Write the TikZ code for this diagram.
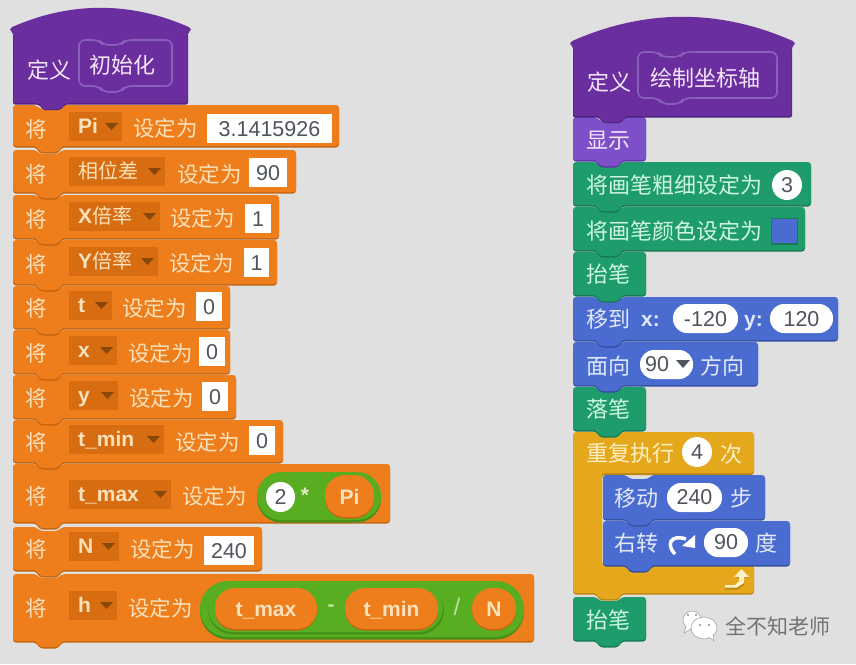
\documentclass[tikz,border=0pt]{standalone}
\usepackage{fontspec}
\setmainfont{Liberation Sans}
\newfontfamily\cjk{Noto Sans CJK SC}
\definecolor{bgc}{HTML}{E0E0E1}
\definecolor{org}{HTML}{EE7D1C}
\definecolor{orgd}{HTML}{C4650F}
\definecolor{orgb}{HTML}{D76C10}
\definecolor{orgt}{HTML}{FBE2BC}
\definecolor{pur}{HTML}{6A2E9E}
\definecolor{purd}{HTML}{4E2281}
\definecolor{purl}{HTML}{8A5FBA}
\definecolor{purt}{HTML}{F3E6FA}
\definecolor{vio}{HTML}{7D4FC9}
\definecolor{viod}{HTML}{6239A8}
\definecolor{grn}{HTML}{1E9C6C}
\definecolor{grnd}{HTML}{177A55}
\definecolor{grnt}{HTML}{CFF7DF}
\definecolor{blu}{HTML}{4A6BD0}
\definecolor{blud}{HTML}{35509F}
\definecolor{blut}{HTML}{E2E9FB}
\definecolor{gld}{HTML}{E5A71C}
\definecolor{gldd}{HTML}{BB8712}
\definecolor{gldt}{HTML}{FDF0C4}
\definecolor{lim}{HTML}{58AE20}
\definecolor{limd}{HTML}{459018}
\definecolor{valc}{HTML}{50545C}
\newcommand\vc[1]{{\cjk\mdseries\fontsize{20}{22}\selectfont #1}}
\tikzset{
  x=1pt,y=-1pt,
  cn/.style={font=\cjk\fontsize{21.5}{22}\selectfont,inner sep=0pt,anchor=west},
  cnb/.style={font=\cjk\fontsize{22}{22}\selectfont,inner sep=0pt,anchor=west},
  lat/.style={font=\bfseries\fontsize{21}{22}\selectfont,inner sep=0pt},
  num/.style={font=\fontsize{21.5}{22}\selectfont,inner sep=0pt,text=valc},
  wbox/.style={fill=white,draw=none},
}
% stack block
\newcommand\blockshape[4]{(#1,#2) -- (#1+23,#2) -- (#1+27,#2+4) -- (#1+45,#2+4) -- (#1+49,#2) -- (#3,#2) -- (#3,#4) -- (#1+49,#4) -- (#1+45,#4+6) -- (#1+27,#4+6) -- (#1+23,#4) -- (#1,#4) -- cycle}
\newcommand\blk[6]{%
  \fill[#6,rounded corners=3pt] \blockshape{#1}{#2+2}{#3}{#4+1.5};
  \fill[#5,rounded corners=3pt] \blockshape{#1}{#2}{#3}{#4};}
% hat
\newcommand\hatblk[8]{% x0 ledgeL x1 bottom  peak  outline x0 y0 x1 y1
  \fill[purd,rounded corners=2pt] (#1+3,#2+5) -- (#1+3,#4+1.5) -- (#1+29,#4+1.5) -- (#1+33,#4+7) -- (#1+51,#4+7) -- (#1+55,#4+1.5) -- (#3-3,#4+1.5) -- (#3-3,#2+5) -- cycle;
  \fill[pur,rounded corners=2pt] (#1,#2) .. controls ({#1+(#3-#1)/3},{#5-(#2-#5)/3}) and ({#3-(#3-#1)/3},{#5-(#2-#5)/3}) .. (#3,#2) -- (#3,#2+3) -- (#3-3.5,#2+5) -- (#3-3.5,#4) -- (#1+55,#4) -- (#1+51,#4+6) -- (#1+33,#4+6) -- (#1+29,#4) -- (#1+3.5,#4) -- (#1+3.5,#2+5) -- (#1,#2+3) -- cycle;
  \draw[purl,line width=1.6pt,rounded corners=6pt] (#6,#7) -- (#6+20,#7) -- (#6+24,#7+5) -- (#6+42,#7+5) -- (#6+46,#7) -- (#8,#7) -- (#8,#7+46) -- (#6+46,#7+46) -- (#6+42,#7+52) -- (#6+24,#7+52) -- (#6+20,#7+46) -- (#6,#7+46) -- cycle;}
\newcommand\jiang[2]{\node[cn,text=orgt] (#1j) at (25,#2) {将};}
\newcommand\dd[4]{% name yc x1 text
  \fill[orgb] (69,#2-17) rectangle (#3,#2+12);
  \node[lat,anchor=base west,text=orgt] (#1v) at (78,#2+4) {#4};
  \fill[orgd!70!black] (#3-17,#2-6) -- (#3-4,#2-6) -- (#3-10.5,#2+1) -- cycle;}
\newcommand\sd[3]{\node[cn,text=orgt] (#1s) at (#2,#3) {设定为};}
\newcommand\val[5]{% name x0 x1 yc text
  \fill[wbox] (#2,#4-15) rectangle (#3,#4+14);
  \node[num] (#1n) at ({(#2+#3)/2},#4) {#5};}
\newcommand\pill[5]{% name x0 x1 yc text
  \fill[white,rounded corners=14pt] (#2,#4-15) rectangle (#3,#4+14);
  \node[num] (#1n) at ({(#2+#3)/2},#4) {#5};}
\newcommand\opill[7]{% name x0 x1 y0 y1 text yc
  \fill[orgd,rounded corners=20pt] (#2,#4+1.5) rectangle (#3,#5+1.5);
  \fill[org,rounded corners=20pt] (#2,#4) rectangle (#3,#5);
  \node[lat,anchor=base,text=orgt] (#1n) at ({(#2+#3)/2},#7+8) {#6};}
\begin{document}
\begin{tikzpicture}
\useasboundingbox (0,0) rectangle (856,664);
\fill[bgc] (0,0) rectangle (856,664);
\foreach \i in {0,...,38}{\foreach \j in {0,...,30}{\fill[black!9] (\i*22.5+9,\j*22.5+3) circle[radius=0.7pt];}}

% ---- left stack (drawn bottom up so notches of upper blocks show)
\blk{13}{574}{534}{641}{org}{orgd}
\blk{13}{527}{262}{570}{org}{orgd}
\blk{13}{464}{390}{522}{org}{orgd}
\blk{13}{420}{283}{462}{org}{orgd}
\blk{13}{375}{236}{418}{org}{orgd}
\blk{13}{330}{230}{373}{org}{orgd}
\blk{13}{286}{230}{328}{org}{orgd}
\blk{13}{240}{277}{284}{org}{orgd}
\blk{13}{195}{279}{238}{org}{orgd}
\blk{13}{150}{296}{192}{org}{orgd}
\blk{13}{105}{339}{146}{org}{orgd}
\hatblk{10}{28}{191}{103}{8}{79}{40}{172}
\node[cnb,text=purt] (d1) at (27,70) {定义};
\node[cnb,text=purt] (f1) at (89,65) {初始化};

\jiang{a}{129}\dd{a}{129}{122}{Pi}\sd{a}{133}{128}\val{a}{207}{332}{129}{3.1415926}
\jiang{b}{174}\dd{b}{174}{165}{\vc{相位差}}\sd{b}{177}{174}\val{b}{249}{287}{173}{90}
\jiang{c}{219}\dd{c}{219}{160}{X\vc{倍率}}\sd{c}{170}{218}\val{c}{245}{271}{219}{1}
\jiang{d}{264}\dd{d}{264}{158}{Y\vc{倍率}}\sd{d}{169}{263}\val{d}{244}{269}{263}{1}
\jiang{e}{308}\dd{e}{308}{112}{t}\sd{e}{122}{308}\val{e}{196}{222}{307}{0}
\jiang{f}{353}\dd{f}{353}{117}{x}\sd{f}{128}{353}\val{f}{199}{225}{352}{0}
\jiang{g}{398}\dd{g}{398}{118}{y}\sd{g}{129}{398}\val{g}{202}{228}{397}{0}
\jiang{h}{442}\dd{h}{442}{164}{t\_min}\sd{h}{175}{442}\val{h}{249}{275}{441}{0}
\jiang{i}{496}\dd{i}{497}{171}{t\_max}\sd{i}{182}{496}
\fill[limd,rounded corners=24pt] (257,473.5) rectangle (381,522.5);
\fill[lim,rounded corners=24pt] (257,472) rectangle (381,520);
\fill[white,rounded corners=14.5pt] (266,482) rectangle (295,512);
\node[num] (in2) at (280.5,497) {2};
\node[lat,text=orgt!60!lim!40!white] (istar) at (305,495) {*};
\opill{ipi}{325}{374}{475}{517}{Pi}{496}
\jiang{j}{549}\dd{j}{549}{119}{N}\sd{j}{130}{549}\val{j}{204}{254}{551}{240}
\jiang{k}{608}\dd{k}{608}{117}{h}\sd{k}{128}{608}
\fill[limd,rounded corners=28pt] (200,582.5) rectangle (524,639.5);
\fill[lim,rounded corners=28pt] (200,581) rectangle (524,637);
\fill[limd,rounded corners=25pt] (208,585.5) rectangle (444,634.5);
\fill[lim,rounded corners=25pt] (208,584) rectangle (443,632);
\opill{kmax}{215}{317}{588}{629}{t\_max}{608}
\node[lat,text=white!60!lim] (kminus) at (331,608) {-};
\opill{kmin}{345}{438}{588}{629}{t\_min}{608}
\node[lat,text=white!60!lim,font=\fontsize{24}{24}\selectfont] (kdiv) at (457,607) {/};
\opill{kn}{472}{516}{588}{629}{N}{608}

% ---- right stack
\blk{573}{597}{646}{640}{grn}{grnd}
% C block
\fill[gldd,rounded corners=3pt] (573,434) -- (754,434) -- (754,475) -- (632,475) -- (602,475) -- (602,566) -- (754,566) -- (754,594.5) -- (622,594.5) -- (618,600.5) -- (600,600.5) -- (596,594.5) -- (573,594.5) -- cycle;
\fill[gld,rounded corners=3pt] (573,432) -- (596,432) -- (600,436) -- (618,436) -- (622,432) -- (754,432) -- (754,473) -- (602,473) -- (602,565) -- (754,565) -- (754,593) -- (622,593) -- (618,599) -- (600,599) -- (596,593) -- (573,593) -- cycle;
\blk{603}{521}{790}{565}{blu}{blud}
\blk{603}{475}{765}{519}{blu}{blud}
\blk{573}{387}{646}{430}{grn}{grnd}
\blk{573}{342}{758}{385}{blu}{blud}
\blk{573}{297}{838}{340}{blu}{blud}
\blk{573}{252}{646}{295}{grn}{grnd}
\blk{573}{207}{805}{250}{grn}{grnd}
\blk{573}{162}{811}{205}{grn}{grnd}
\blk{573}{117}{646}{160}{vio}{viod}
\hatblk{570}{42}{795}{116}{17}{638}{52}{777}
\node[cnb,text=purt] (d2) at (587,82) {定义};
\node[cnb,text=purt] (f2) at (650,78) {绘制坐标轴};
\node[cnb,text=purt] (show) at (586,141) {显示};
\node[cnb,text=grnt] (pw) at (586,185) {将画笔粗细设定为};
\fill[white] (787,185) circle[radius=15pt];
\node[num] (pwn) at (787,185) {3};
\node[cnb,text=grnt] (pc) at (586,231) {将画笔颜色设定为};
\fill[grnd] (771,218) rectangle (798,245);
\fill[blu] (772,219) rectangle (797,243);
\node[cnb,text=grnt] (up1) at (586,274) {抬笔};
\node[cnb,text=blut] (mv) at (586,319) {移到};
\node[lat,anchor=base west,text=blut] (mx) at (641,326) {x:};
\pill{mxv}{673}{738}{319}{-120}
\node[lat,anchor=base west,text=blut] (my) at (744,326) {y:};
\pill{myv}{770}{833}{319}{120}
\node[cnb,text=blut] (fc) at (586,366) {面向};
\fill[white,rounded corners=14pt] (640,350) rectangle (693,379);
\node[num,anchor=west] (fcv) at (645,364) {90};
\fill[valc] (676,360) -- (690,360) -- (683,368) -- cycle;
\node[cnb,text=blut] (fc2) at (700,366) {方向};
\node[cnb,text=grnt] (dn) at (586,409) {落笔};
\node[cnb,text=gldt] (rp) at (586,453) {重复执行};
\fill[white] (697,452) circle[radius=15pt];
\node[num] (rpn) at (697,452) {4};
\node[cnb,text=gldt] (rp2) at (720,454) {次};
\node[cnb,text=blut] (go) at (614,498) {移动};
\fill[white,rounded corners=14pt] (667,483) rectangle (722,512);
\node[num] (gon) at (694.5,497) {240};
\node[cnb,text=blut] (go2) at (730,498) {步};
\node[cnb,text=blut] (tr) at (614,543) {右转};
\draw[white,line width=3.5pt] (675,554) .. controls (666,545) and (670,534) .. (686,539);
\fill[white] (682,546) -- (695,535) -- (695,548) -- cycle;
\fill[white,rounded corners=14pt] (704,528) rectangle (748,557);
\node[num] (trn) at (726,542) {90};
\node[cnb,text=blut] (tr2) at (755,543) {度};
% loop arrow
\fill[gldd] (725,587) -- (736,587) -- (740,583) -- (740,578) -- (735,578) -- (742,570) -- (749,578) -- (744,578) -- (744,585) -- (738,589.5) -- (725,589.5) -- cycle;
\fill[gldt] (725,585) -- (735,585) -- (739,581) -- (739,577) -- (734,577) -- (741.5,569) -- (749,577) -- (744,577) -- (744,583) -- (737,587.5) -- (725,587.5) -- cycle;
\node[cnb,text=grnt] (up2) at (586,620) {抬笔};

% watermark
\draw[black!35,fill=white,line width=0.6pt] (692,620) ellipse[x radius=9pt,y radius=9pt];
\draw[black!35,fill=white,line width=0.6pt] (686,626) -- (684,633) -- (691,629);
\draw[black!35,fill=white,line width=0.6pt] (704,628) ellipse[x radius=13pt,y radius=11pt];
\draw[black!35,fill=white,line width=0.6pt] (709,637) -- (714,641) -- (713,634);
\fill[black!45] (688,615) circle[radius=1.1pt] (696,615) circle[radius=1.1pt] (700,625) circle[radius=1.1pt] (709,625) circle[radius=1.1pt];
\node[cnb,text=black!55,font=\cjk\fontsize{21}{22}\selectfont] (wm) at (725,626) {全不知老师};
\end{tikzpicture}
\end{document}
